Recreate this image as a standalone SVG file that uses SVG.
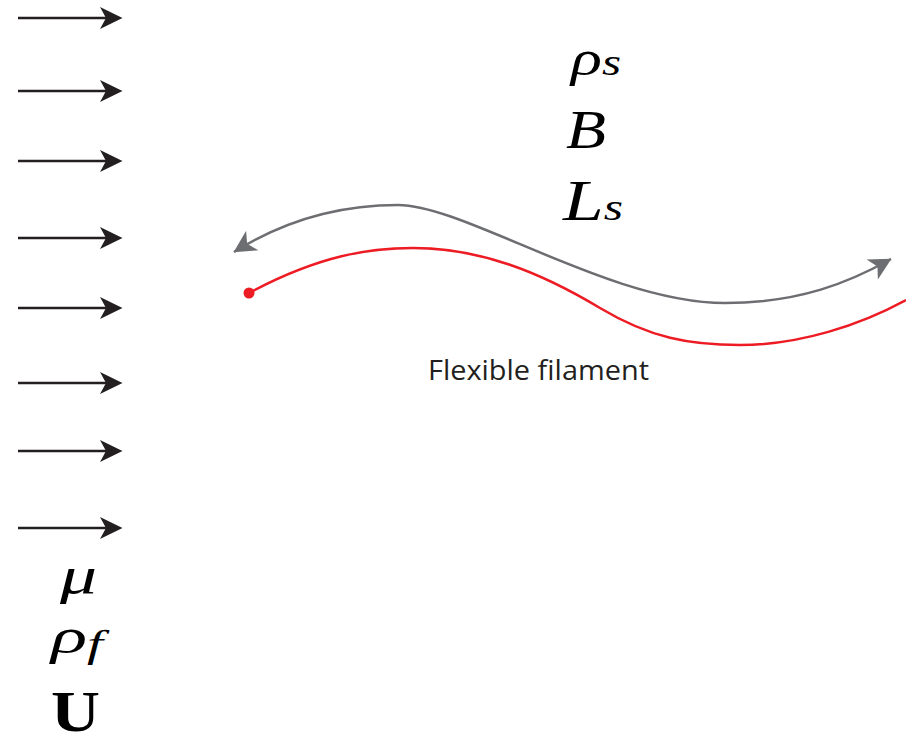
<svg xmlns="http://www.w3.org/2000/svg" width="906" height="736" viewBox="0 0 906 736">
<style>
.flow{stroke:#231f20;stroke-width:2.3;fill:none}
.head{fill:#231f20}
.math{font-family:"Liberation Serif",serif;font-style:italic;fill:#000}
.lab{font-family:"Open Sans","Noto Sans",sans-serif;font-size:28px;fill:#231f20}
</style>
<defs>
<marker id="ga" viewBox="0 0 24 24" markerWidth="24" markerHeight="24" refX="22" refY="12" orient="auto-start-reverse" markerUnits="userSpaceOnUse">
<path d="M22.5,12 L0.5,0.5 L6.5,12 L0.5,23.5 Z" fill="#6d6e71"/>
</marker>
<g id="fa">
<line class="flow" x1="18" y1="0" x2="112" y2="0"/>
<path class="head" d="M122.5,0 L100,-11 L106,0 L100,11 Z"/>
</g>
</defs>
<g id="flow-arrows">
<use href="#fa" y="18"/>
<use href="#fa" y="91"/>
<use href="#fa" y="161"/>
<use href="#fa" y="238"/>
<use href="#fa" y="308"/>
<use href="#fa" y="383"/>
<use href="#fa" y="451"/>
<use href="#fa" y="528"/>
</g>
<g id="connectors">
<path d="M234,252 C285,220 340,205 398,205 C465,205 610,303 725,303 C800,303 850,282 891,259" fill="none" stroke="#6d6e71" stroke-width="2.5" marker-start="url(#ga)" marker-end="url(#ga)"/>
<path d="M249,293 C320,255 370,248 413,248 C480,248 540,272 600,308 C650,338 690,345 740,345 C800,345 860,325 906,300" fill="none" stroke="#ed1c24" stroke-width="2.5"/>
</g>
<g id="filament">
<circle cx="249" cy="293" r="5.5" fill="#ed1c24"/>
<text class="lab" x="428" y="380" textLength="221" lengthAdjust="spacingAndGlyphs">Flexible filament</text>
</g>
<g id="solid-params">
<text class="math" x="571" y="75" font-size="50" textLength="50" lengthAdjust="spacingAndGlyphs">ρ<tspan font-size="38">s</tspan></text>
<text class="math" x="566" y="148" font-size="55" textLength="40" lengthAdjust="spacingAndGlyphs">B</text>
<text class="math" x="563" y="220" font-size="56" textLength="60" lengthAdjust="spacingAndGlyphs">L<tspan font-size="38">s</tspan></text>
</g>
<g id="fluid-params">
<text class="math" x="60" y="593" font-size="52" textLength="37" lengthAdjust="spacingAndGlyphs">μ</text>
<text class="math" x="51" y="653" font-size="50" textLength="52" lengthAdjust="spacingAndGlyphs">ρ<tspan font-size="38" dy="4">f</tspan></text>
<text x="51" y="731" font-family="Liberation Serif,serif" font-weight="bold" font-size="56" fill="#000" textLength="49" lengthAdjust="spacingAndGlyphs">U</text>
</g>
</svg>
